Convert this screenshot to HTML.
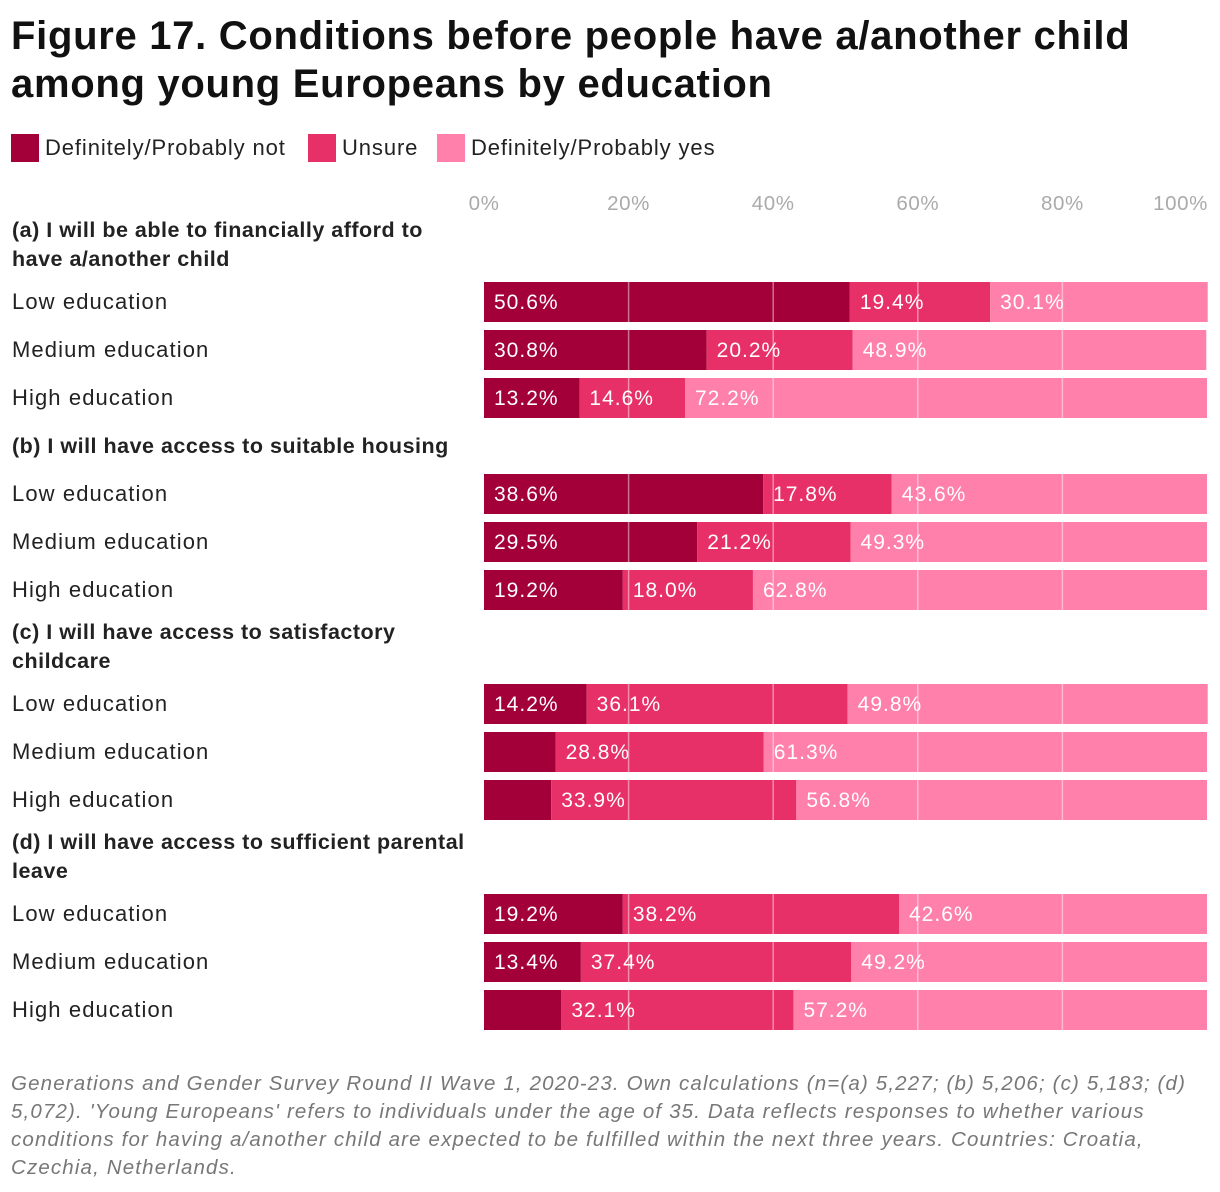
<!DOCTYPE html>
<html><head><meta charset="utf-8">
<style>
body{margin:0;background:#fff;font-family:"Liberation Sans",sans-serif;}
#wrap{position:relative;width:1220px;height:1192px;overflow:hidden}
h1{position:absolute;left:11px;top:12px;margin:0;font-size:40px;line-height:48px;font-weight:bold;color:#111;letter-spacing:0.7px;white-space:nowrap}
.leg{position:absolute;top:134px;height:28px;font-size:22px;color:#222;display:flex;align-items:center;letter-spacing:0.9px;white-space:nowrap}
.leg span.sw{width:28px;height:28px;display:inline-block;margin-right:6px}
.foot{position:absolute;left:11px;top:1070px;width:1200px;font-size:20.5px;line-height:28px;color:#777;font-style:italic;letter-spacing:1.15px}
</style></head><body>
<div id="wrap">
<h1>Figure 17. Conditions before people have a/another child<br>among young Europeans by education</h1>
<div class="leg" style="left:11px"><span class="sw" style="background:#a3003a"></span>Definitely/Probably not</div>
<div class="leg" style="left:308px"><span class="sw" style="background:#e83068"></span>Unsure</div>
<div class="leg" style="left:437px"><span class="sw" style="background:#ff80aa"></span>Definitely/Probably yes</div>
<svg id="chart" width="1220" height="1192" style="position:absolute;left:0;top:0"></svg>
<div class="foot">Generations and Gender Survey Round II Wave 1, 2020-23. Own calculations (n=(a) 5,227; (b) 5,206; (c) 5,183; (d) 5,072). 'Young Europeans' refers to individuals under the age of 35. Data reflects responses to whether various conditions for having a/another child are expected to be fulfilled within the next three years. Countries: Croatia, Czechia, Netherlands.</div>
</div>
<script>
const groups=["(a) I will be able to financially afford to|have a/another child","(b) I will have access to suitable housing","(c) I will have access to satisfactory|childcare","(d) I will have access to sufficient parental|leave"];
const categories=["Low education","Medium education","High education"];
const notVals=[50.6,30.8,13.2,38.6,29.5,19.2,14.2,9.9,9.3,19.2,13.4,10.7];
const unsureVals=[19.4,20.2,14.6,17.8,21.2,18.0,36.1,28.8,33.9,38.2,37.4,32.1];
const yesVals=[30.1,48.9,72.2,43.6,49.3,62.8,49.8,61.3,56.8,42.6,49.2,57.2];
const showNotLabel=[1,1,1,1,1,1,1,0,0,1,1,0];
const ticks=[0,20,40,60,80,100];
const svg=document.getElementById('chart');
const NS="http://www.w3.org/2000/svg";
const x0=484,x1=1207;
function xs(v){return x0+(x1-x0)*v/100;}
const groupTop=[217,433,619,829];
const barTop=[[282,330,378],[474,522,570],[684,732,780],[894,942,990]];
function mk(t,a){const e=document.createElementNS(NS,t);for(const k in a)e.setAttribute(k,a[k]);svg.appendChild(e);return e;}
ticks.forEach(t=>{
 const e=mk('text',{x:xs(t)-(t==100?-1:0),y:210,'text-anchor':t==100?'end':'middle','font-size':20.5,'letter-spacing':0.6,fill:'#aaa','font-family':'Liberation Sans, sans-serif'});
 e.textContent=t+'%';
 
 
});
const cols=["#a3003a","#e83068","#ff80aa"];
groups.forEach((g,gi)=>{
 g.split('|').forEach((ln,li)=>{
  const e=mk('text',{x:12,y:groupTop[gi]+20+li*29,'font-size':21.5,'letter-spacing':0.5,'font-weight':'bold',fill:'#222','font-family':'Liberation Sans, sans-serif'});
  e.textContent=ln;
  
  
 });
 categories.forEach((c,ci)=>{
  const i=gi*3+ci,y=barTop[gi][ci];
  const l=mk('text',{x:12,y:y+27,'font-size':22,'letter-spacing':1.1,fill:'#222','font-family':'Liberation Sans, sans-serif'});
  l.textContent=c;
  
  
  const vals=[notVals[i],unsureVals[i],yesVals[i]];
  const shown=[showNotLabel[i],1,1];
  let acc=0;
  vals.forEach((v,k)=>{
   const r=mk('rect',{x:xs(acc),y:y,width:xs(acc+v)-xs(acc),height:40,fill:cols[k]});
   
   
   if(shown[k]){
    const t=mk('text',{x:xs(acc)+10,y:y+27,'font-size':21,'letter-spacing':1,fill:'#fff','font-family':'Liberation Sans, sans-serif'});
    t.textContent=v.toFixed(1)+'%';
    
    
   }
   acc+=v;
  });
 });
});
ticks.forEach(t=>{
 if(t==0||t==100)return;
 barTop.forEach(bs=>bs.forEach(y=>{
  const gl=mk('line',{x1:xs(t),x2:xs(t),y1:y,y2:y+40,stroke:'rgba(255,255,255,0.45)','stroke-width':1.5});
  
  
 }));
});
</script>
</body></html>
